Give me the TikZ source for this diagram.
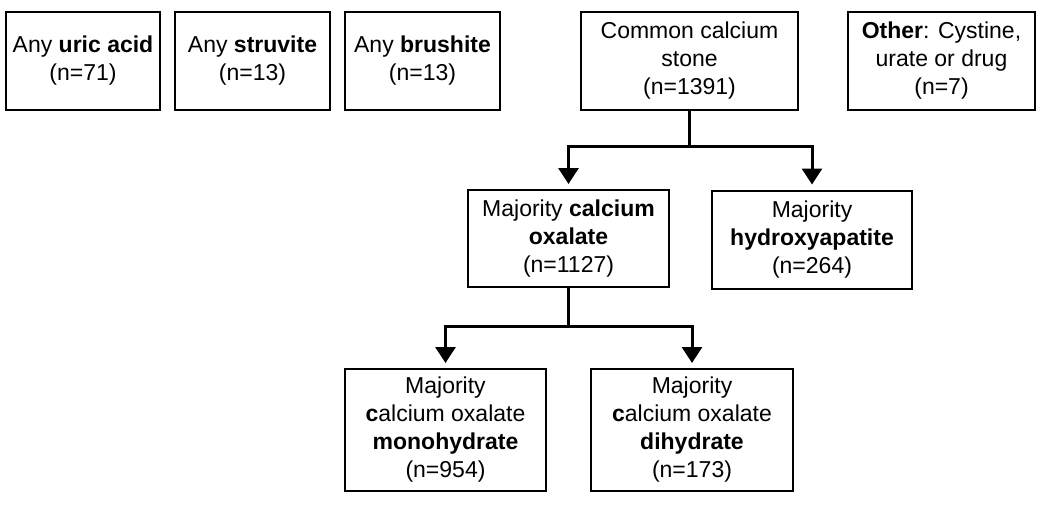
\documentclass[tikz,border=0pt]{standalone}
\usepackage{fontspec}
\setmainfont{Liberation Sans}
\usetikzlibrary{arrows.meta}

\begin{document}
\begin{tikzpicture}[x=0.5pt,y=-0.5pt,
    box/.style={draw,line width=1pt,align=center,inner sep=0pt,
        font=\fontsize{11.5}{14}\selectfont},
    arr/.style={line width=1.5pt,-{Triangle[width=10pt,length=8pt]},shorten >=2.5pt}]
    \useasboundingbox (0,0) rectangle (1050,504);
    % top row
    \node [box,minimum width=77pt,minimum height=49pt] (uric) at (83,61) {Any \textbf{uric acid}\\(n=71)};
    \node [box,minimum width=77.5pt,minimum height=49pt] (struv) at (252.5,61) {Any \textbf{struvite}\\(n=13)};
    \node [box,minimum width=77.5pt,minimum height=49pt] (brush) at (422.5,61) {Any \textbf{brushite}\\(n=13)};
    \node [box,minimum width=108.5pt,minimum height=49pt] (common) at (689.5,61) {Common calcium\\stone\\(n=1391)};
    \node [box,minimum width=93.5pt,minimum height=49pt] (other) at (941.5,61) {\textbf{Other}: Cystine,\\urate or drug\\(n=7)};
    % second row
    \node [box,minimum width=100.5pt,minimum height=48.5pt] (oxal) at (568.5,238.5) {Majority \textbf{calcium}\\\textbf{oxalate}\\(n=1127)};
    \node [box,minimum width=100pt,minimum height=49pt] (hydro) at (812,239.5) {Majority\\\textbf{hydroxyapatite}\\(n=264)};
    % bottom row
    \node [box,minimum width=100.5pt,minimum height=61pt] (mono) at (445.5,430) {Majority\\\textbf{c}alcium oxalate\\\textbf{monohydrate}\\(n=954)};
    \node [box,minimum width=101pt,minimum height=61pt] (dihyd) at (692,430) {Majority\\\textbf{c}alcium oxalate\\\textbf{dihydrate}\\(n=173)};
    % connectors
    \coordinate (split1) at (689.5,146);
    \coordinate (split2) at (568.5,326);
    \draw [line width=1.5pt] (common.south) -- (split1);
    \draw [arr] (split1) -| (oxal.north);
    \draw [arr] (split1) -| (hydro.north);
    \draw [line width=1.5pt] (oxal.south) -- (split2);
    \draw [arr] (split2) -| (mono.north);
    \draw [arr] (split2) -| (dihyd.north);
\end{tikzpicture}
\end{document}
